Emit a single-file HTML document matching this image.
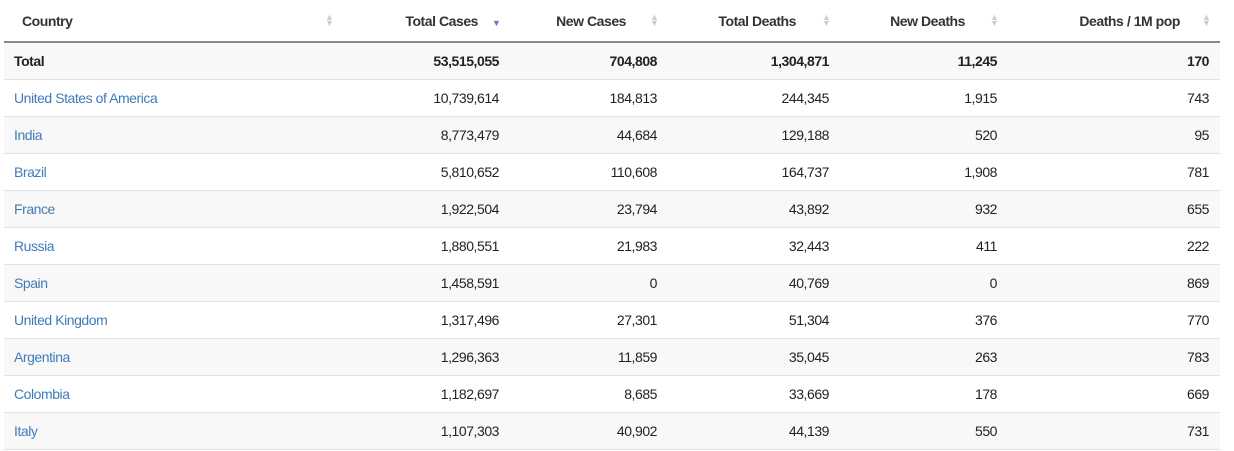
<!DOCTYPE html>
<html><head><meta charset="utf-8"><style>
body{margin:0;width:1234px;height:451px;background:#fff;font-family:"Liberation Sans",Arial,sans-serif;overflow:hidden}
table{position:absolute;left:4px;top:0;width:1216px;border-collapse:collapse;font-size:14px;color:#222;letter-spacing:-0.45px}
th{height:41px;font-weight:bold;text-align:right;padding:0 12px;position:relative;border-bottom:2px solid #8a8a8a;color:#333}
th:first-child{text-align:left;padding-left:18px}
th .s{position:absolute;right:10px;top:14px;color:#ccc;font-size:9px;line-height:6px;width:8px;text-align:center}
th .srt{color:#6f74c8;top:20px}
td{height:36px;text-align:right;padding:0 11px 0 0;border-bottom:1px solid #e2e2e2}
td:first-child{text-align:left;padding-left:10px}
tr.g td{background:#f8f8f8}
tr.tot td{font-weight:bold}
a{color:#3e7cb8;text-decoration:none}
</style></head><body>
<table>
<colgroup><col style="width:341px"><col style="width:165px"><col style="width:158px"><col style="width:172px"><col style="width:168px"><col style="width:212px"></colgroup>
<thead><tr>
<th>Country<span class="s" style="right:12px">▲<br>▼</span></th>
<th style="padding-right:32px">Total Cases<span class="s srt">▼</span></th>
<th style="padding-right:42px">New Cases<span class="s">▲<br>▼</span></th>
<th style="padding-right:44px">Total Deaths<span class="s">▲<br>▼</span></th>
<th style="padding-right:43px">New Deaths<span class="s">▲<br>▼</span></th>
<th style="padding-right:40px">Deaths / 1M pop<span class="s">▲<br>▼</span></th>
</tr></thead>
<tbody>
<tr class="g tot"><td>Total</td><td>53,515,055</td><td>704,808</td><td>1,304,871</td><td>11,245</td><td>170</td></tr>
<tr><td><a href="#">United States of America</a></td><td>10,739,614</td><td>184,813</td><td>244,345</td><td>1,915</td><td>743</td></tr>
<tr class="g"><td><a href="#">India</a></td><td>8,773,479</td><td>44,684</td><td>129,188</td><td>520</td><td>95</td></tr>
<tr><td><a href="#">Brazil</a></td><td>5,810,652</td><td>110,608</td><td>164,737</td><td>1,908</td><td>781</td></tr>
<tr class="g"><td><a href="#">France</a></td><td>1,922,504</td><td>23,794</td><td>43,892</td><td>932</td><td>655</td></tr>
<tr><td><a href="#">Russia</a></td><td>1,880,551</td><td>21,983</td><td>32,443</td><td>411</td><td>222</td></tr>
<tr class="g"><td><a href="#">Spain</a></td><td>1,458,591</td><td>0</td><td>40,769</td><td>0</td><td>869</td></tr>
<tr><td><a href="#">United Kingdom</a></td><td>1,317,496</td><td>27,301</td><td>51,304</td><td>376</td><td>770</td></tr>
<tr class="g"><td><a href="#">Argentina</a></td><td>1,296,363</td><td>11,859</td><td>35,045</td><td>263</td><td>783</td></tr>
<tr><td><a href="#">Colombia</a></td><td>1,182,697</td><td>8,685</td><td>33,669</td><td>178</td><td>669</td></tr>
<tr class="g"><td><a href="#">Italy</a></td><td>1,107,303</td><td>40,902</td><td>44,139</td><td>550</td><td>731</td></tr>
</tbody></table>
</body></html>
